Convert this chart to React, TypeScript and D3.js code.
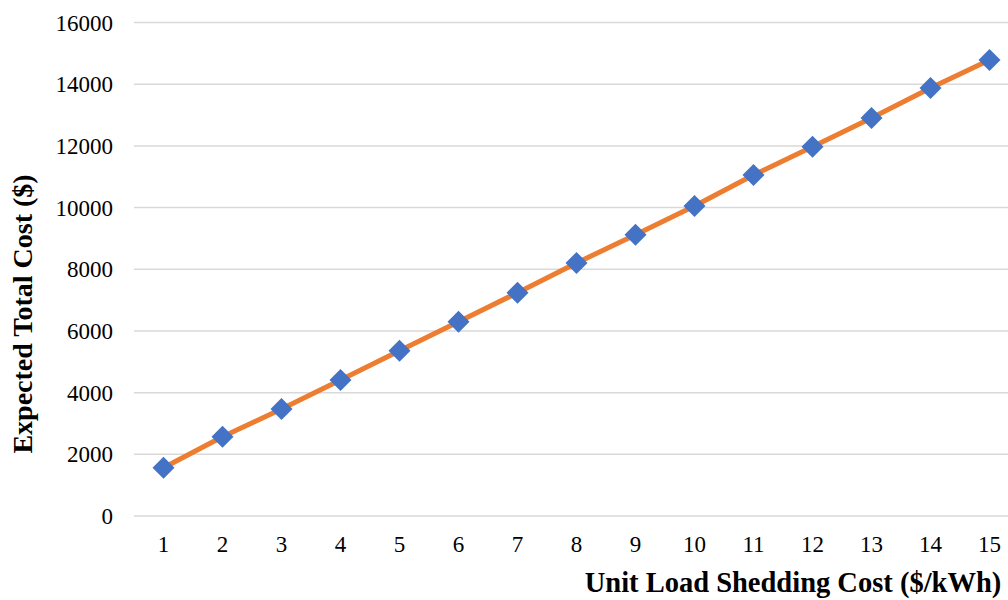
import React from "react";
import * as d3 from "d3";

const categories = ["1","2","3","4","5","6","7","8","9","10","11","12","13","14","15"];
const values = [1566, 2571, 3469, 4409, 5359, 6300, 7240, 8203, 9120, 10051, 11056, 11973, 12904, 13877, 14785];
const yTicks = [0, 2000, 4000, 6000, 8000, 10000, 12000, 14000, 16000];

export default function App() {
  const W = 1008, H = 600;
  const left = 134, top = 22.5, bottom = 516, bandW = 59;
  const x = d3.scaleBand<string>().domain(categories).range([left, left + bandW * categories.length]);
  const y = d3.scaleLinear().domain([0, 16000]).range([bottom, top]);
  const line = d3.line<number>().x((_, i) => (x(categories[i]) as number) + x.bandwidth() / 2).y(d => y(d));
  const font = "'Liberation Serif', 'Times New Roman', serif";
  const s = 11;
  return (
    <svg width={W} height={H} style={{ position: "absolute", left: 0, top: 0 }}>
      <rect width={W} height={H} fill="#fff" />
      {yTicks.map(t => (
        <g key={t}>
          <line x1={left} x2={W} y1={y(t)} y2={y(t)} stroke="#d9d9d9" strokeWidth={1.5} />
          <text x={113} y={y(t)} dy="0.35em" textAnchor="end" fontFamily={font} fontSize={23} fill="#000">{t}</text>
        </g>
      ))}
      {categories.map(c => (
        <text key={c} x={(x(c) as number) + x.bandwidth() / 2} y={552} textAnchor="middle" fontFamily={font} fontSize={23} fill="#000">{c}</text>
      ))}
      <path d={line(values) || ""} fill="none" stroke="#ED7D31" strokeWidth={5} strokeLinejoin="round" />
      {values.map((v, i) => {
        const cx = (x(categories[i]) as number) + x.bandwidth() / 2;
        const cy = y(v);
        return <path key={i} d={`M${cx},${cy - s}L${cx + s},${cy}L${cx},${cy + s}L${cx - s},${cy}Z`} fill="#4472C4" />;
      })}
      <text x={793} y={592} textAnchor="middle" fontFamily={font} fontWeight="bold" fontSize={28.5} fill="#000">Unit Load Shedding Cost ($/kWh)</text>
      <text transform={`translate(32,314) rotate(-90)`} textAnchor="middle" fontFamily={font} fontWeight="bold" fontSize={28} fill="#000">Expected Total Cost ($)</text>
    </svg>
  );
}
